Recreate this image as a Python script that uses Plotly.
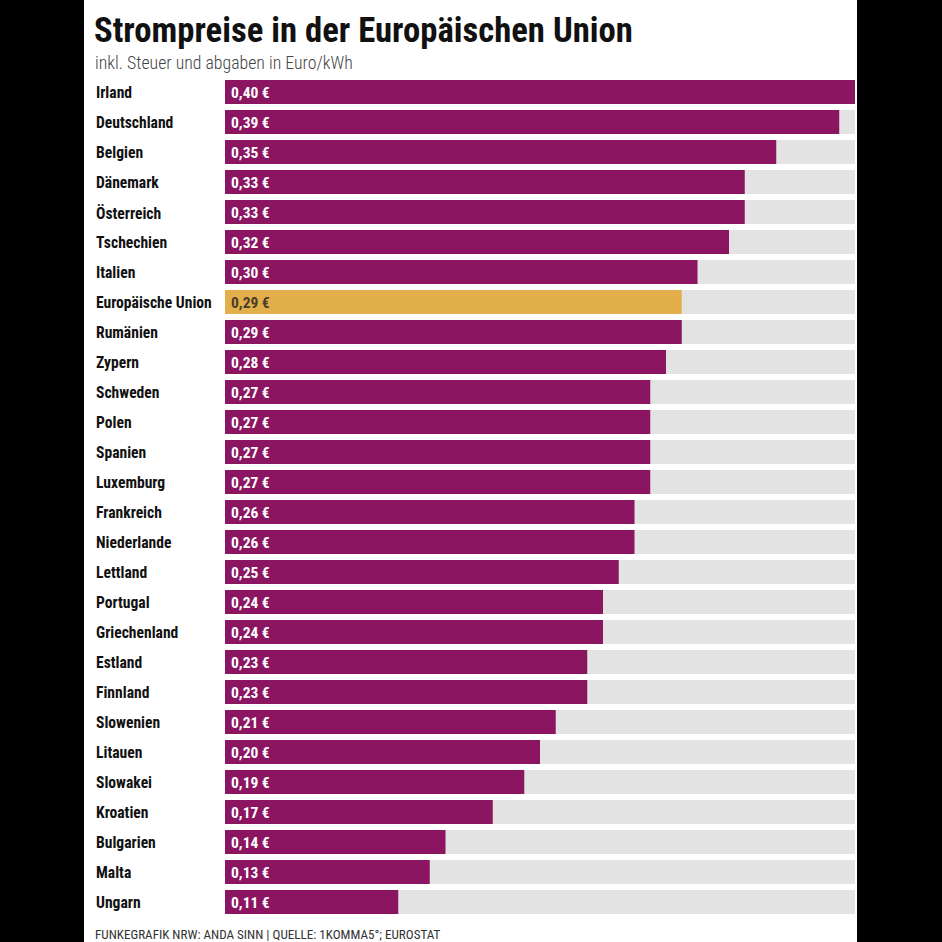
import plotly.graph_objects as go

countries = ["Irland", "Deutschland", "Belgien", "Dänemark", "Österreich", "Tschechien",
             "Italien", "Europäische Union", "Rumänien", "Zypern", "Schweden", "Polen",
             "Spanien", "Luxemburg", "Frankreich", "Niederlande", "Lettland", "Portugal",
             "Griechenland", "Estland", "Finnland", "Slowenien", "Litauen", "Slowakei",
             "Kroatien", "Bulgarien", "Malta", "Ungarn"]
prices = [0.40, 0.39, 0.35, 0.33, 0.33, 0.32, 0.30, 0.29, 0.29, 0.28, 0.27, 0.27,
          0.27, 0.27, 0.26, 0.26, 0.25, 0.24, 0.24, 0.23, 0.23, 0.21, 0.20, 0.19,
          0.17, 0.14, 0.13, 0.11]
highlight = "Europäische Union"

TITLE = "Strompreise in der Europäischen Union"
SUBTITLE = "inkl. Steuer und abgaben in Euro/kWh"
SOURCE = "FUNKEGRAFIK NRW: ANDA SINN | QUELLE: 1KOMMA5°; EUROSTAT"

PURPLE = "#8C1561"
GOLD = "#E3AF4B"
GREY = "#E3E3E3"
FONT = "Liberation Sans Narrow, Roboto Condensed, DejaVu Sans Condensed, Arial Narrow, sans-serif"

W, H = 942, 942
L, R, T, B = 225, 87, 77, 25
pw, ph = W - L - R, H - T - B

def px_x(p):
    return (p - L) / pw

def px_y(p):
    return (H - B - p) / ph

xmax = max(prices)
colors = [GOLD if c == highlight else PURPLE for c in countries]

fig = go.Figure()
fig.add_trace(go.Bar(y=countries, x=[xmax] * len(countries), orientation="h",
                     marker=dict(color=GREY, line=dict(width=0)), width=0.8,
                     hoverinfo="skip", showlegend=False))
fig.add_trace(go.Bar(y=countries, x=prices, orientation="h",
                     marker=dict(color=colors, line=dict(width=0)), width=0.8,
                     showlegend=False))

annotations = []
for c, v in zip(countries, prices):
    annotations.append(dict(x=px_x(94), xref="paper", y=c, yref="y", xanchor="left",
                            yanchor="middle", yshift=-1, text=c, showarrow=False,
                            font=dict(family=FONT, size=15.6, color="#111111", weight="bold")))
    annotations.append(dict(x=0, xref="x", y=c, yref="y", xanchor="left", xshift=4,
                            yanchor="middle", yshift=-1, text=f"{v:.2f} €".replace(".", ","),
                            showarrow=False,
                            font=dict(family=FONT, size=15.5,
                                      color="#4a3d2a" if c == highlight else "white",
                                      weight="bold")))

annotations.append(dict(x=px_x(92), xref="paper", y=px_y(30), yref="paper", xanchor="left",
                        yanchor="middle", text=TITLE, showarrow=False,
                        font=dict(family=FONT, size=34.7, color="#111111", weight="bold")))
annotations.append(dict(x=px_x(93), xref="paper", y=px_y(62), yref="paper", xanchor="left",
                        yanchor="middle", text=SUBTITLE, showarrow=False,
                        font=dict(family=FONT, size=17.8, color="#444444", weight=300)))
annotations.append(dict(x=px_x(93), xref="paper", y=px_y(935), yref="paper", xanchor="left",
                        yanchor="middle", text=SOURCE, showarrow=False,
                        font=dict(family=FONT, size=13.1, color="#333333")))

fig.update_layout(
    width=W, height=H,
    margin=dict(l=L, r=R, t=T, b=B, pad=0),
    paper_bgcolor="black", plot_bgcolor="white",
    barmode="overlay", bargap=0.2,
    xaxis=dict(range=[0, xmax], visible=False, showgrid=False, zeroline=False, fixedrange=True),
    yaxis=dict(autorange="reversed", visible=False, showgrid=False, fixedrange=True),
    shapes=[dict(type="rect", xref="paper", yref="paper", x0=px_x(84), x1=px_x(857),
                 y0=-0.2, y1=1.3, fillcolor="white", line=dict(width=0), layer="below")],
    annotations=annotations,
)

fig.write_html("out.html")
